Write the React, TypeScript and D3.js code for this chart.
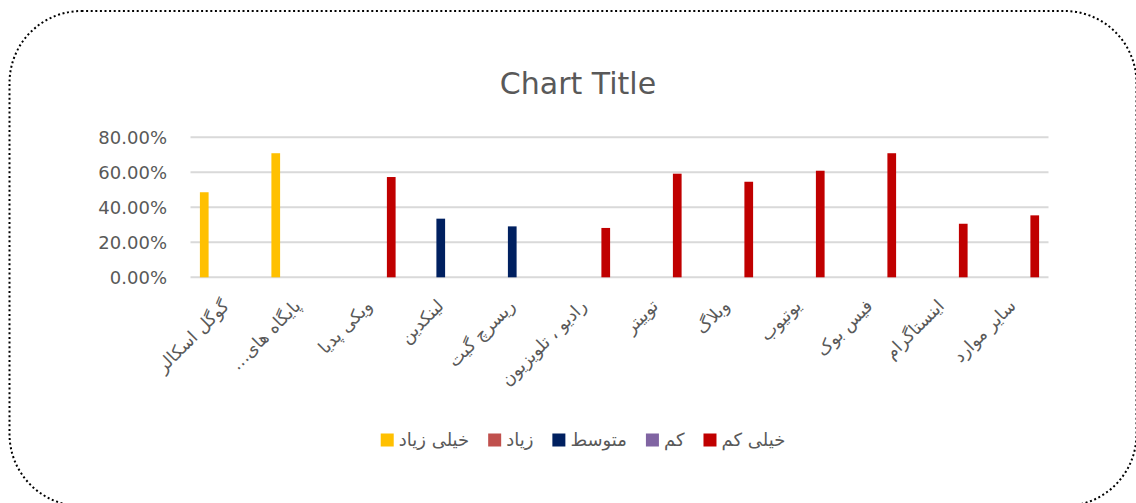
import React, { useEffect, useRef } from "react";
import * as d3 from "d3";

const categories = [
  "گوگل اسکالر",
  "پایگاه های…",
  "ویکی پدیا",
  "لینکدین",
  "ریسرچ گیت",
  "رادیو ، تلویزیون",
  "توییتر",
  "وبلاگ",
  "یوتیوب",
  "فیس بوک",
  "اینستاگرام",
  "سایر موارد",
];

const seriesNames = ["خیلی زیاد", "زیاد", "متوسط", "کم", "خیلی کم"];
const seriesColors = ["#FFC000", "#C0504D", "#002060", "#8064A2", "#C00000"];

const veryHigh = [0.486, 0.709, 0, 0, 0, 0, 0, 0, 0, 0, 0, 0];
const high = [0, 0, 0, 0, 0, 0, 0, 0, 0, 0, 0, 0];
const medium = [0, 0, 0, 0.335, 0.291, 0, 0, 0, 0, 0, 0, 0];
const low = [0, 0, 0, 0, 0, 0, 0, 0, 0, 0, 0, 0];
const veryLow = [0, 0, 0.573, 0, 0, 0.282, 0.592, 0.546, 0.609, 0.709, 0.306, 0.354];

const seriesValues = [veryHigh, high, medium, low, veryLow];
const yTicks = [0, 0.2, 0.4, 0.6, 0.8];

const W = 1136;
const H = 503;
const TEXT = "#595959";
const FONT = "'DejaVu Sans', sans-serif";

export default function App() {
  const ref = useRef<SVGSVGElement>(null);

  useEffect(() => {
    const svg = d3.select(ref.current);
    svg.selectAll("*").remove();

    // border
    svg
      .append("rect")
      .attr("x", 9.5)
      .attr("y", 11)
      .attr("width", 1127)
      .attr("height", 495)
      .attr("rx", 72)
      .attr("ry", 72)
      .attr("fill", "#fff")
      .attr("stroke", "#000")
      .attr("stroke-width", 2)
      .attr("stroke-dasharray", "2 2.6");

    // title
    svg
      .append("text")
      .attr("x", 578)
      .attr("y", 94)
      .attr("text-anchor", "middle")
      .attr("font-family", FONT)
      .attr("font-size", 30)
      .attr("fill", TEXT)
      .text("Chart Title");

    const left = 190.5;
    const right = 1048.5;
    const y = d3.scaleLinear().domain([0, 0.8]).range([277.3, 137.3]);
    const x0 = d3.scaleBand<string>().domain(categories).range([left, right]).padding(0);
    const half = 26.35;
    const x1 = d3
      .scaleBand<string>()
      .domain(seriesNames)
      .range([-half, half])
      .paddingInner(0.209)
      .paddingOuter(0);

    // gridlines
    svg
      .append("g")
      .selectAll("line")
      .data(yTicks)
      .join("line")
      .attr("x1", left)
      .attr("x2", right)
      .attr("y1", (d) => y(d))
      .attr("y2", (d) => y(d))
      .attr("stroke", "#D9D9D9")
      .attr("stroke-width", 2);

    // y labels
    const fmt = d3.format(".2%");
    svg
      .append("g")
      .selectAll("text")
      .data(yTicks)
      .join("text")
      .attr("x", 167)
      .attr("y", (d) => y(d))
      .attr("dy", "0.36em")
      .attr("text-anchor", "end")
      .attr("font-family", FONT)
      .attr("font-size", 18)
      .attr("fill", TEXT)
      .text((d) => fmt(d));

    // bars
    seriesValues.forEach((vals, si) => {
      const name = seriesNames[si];
      svg
        .append("g")
        .selectAll("rect")
        .data(vals.map((v, i) => ({ v, c: categories[i] })).filter((d) => d.v > 0))
        .join("rect")
        .attr("x", (d) => (x0(d.c) as number) + x0.bandwidth() / 2 + (x1(name) as number))
        .attr("width", x1.bandwidth())
        .attr("y", (d) => y(d.v))
        .attr("height", (d) => y(0) - y(d.v))
        .attr("fill", seriesColors[si]);
    });

    // category labels
    svg
      .append("g")
      .selectAll("text")
      .data(categories)
      .join("text")
      .attr(
        "transform",
        (d) => `translate(${(x0(d) as number) + x0.bandwidth() / 2 + 4},${307}) rotate(-45)`
      )
      .attr("direction", "rtl")
      .attr("text-anchor", "start")
      .attr("font-family", FONT)
      .attr("font-size", 17.5)
      .attr("fill", TEXT)
      .text((d) => d);

    // legend
    const lg = svg.append("g");
    const items = seriesNames.map((n, i) => {
      const g = lg.append("g");
      g.append("rect")
        .attr("width", 13)
        .attr("height", 13)
        .attr("y", -6.5)
        .attr("fill", seriesColors[i]);
      const t = g
        .append("text")
        .attr("direction", "rtl")
        .attr("text-anchor", "end")
        .attr("x", 18)
        .attr("dy", "0.36em")
        .attr("font-family", FONT)
        .attr("font-size", 18)
        .attr("fill", TEXT)
        .text(n);
      const w = (t.node() as SVGTextElement).getComputedTextLength();
      return { g, w: 18 + w };
    });
    const gap = 19;
    const total = d3.sum(items, (d) => d.w) + gap * (items.length - 1);
    let cx = 583 - total / 2;
    items.forEach((it) => {
      it.g.attr("transform", `translate(${cx},440)`);
      cx += it.w + gap;
    });
  }, []);

  return (
    <svg
      ref={ref}
      width={W}
      height={H}
      style={{ position: "absolute", left: 0, top: 0, display: "block" }}
    />
  );
}
